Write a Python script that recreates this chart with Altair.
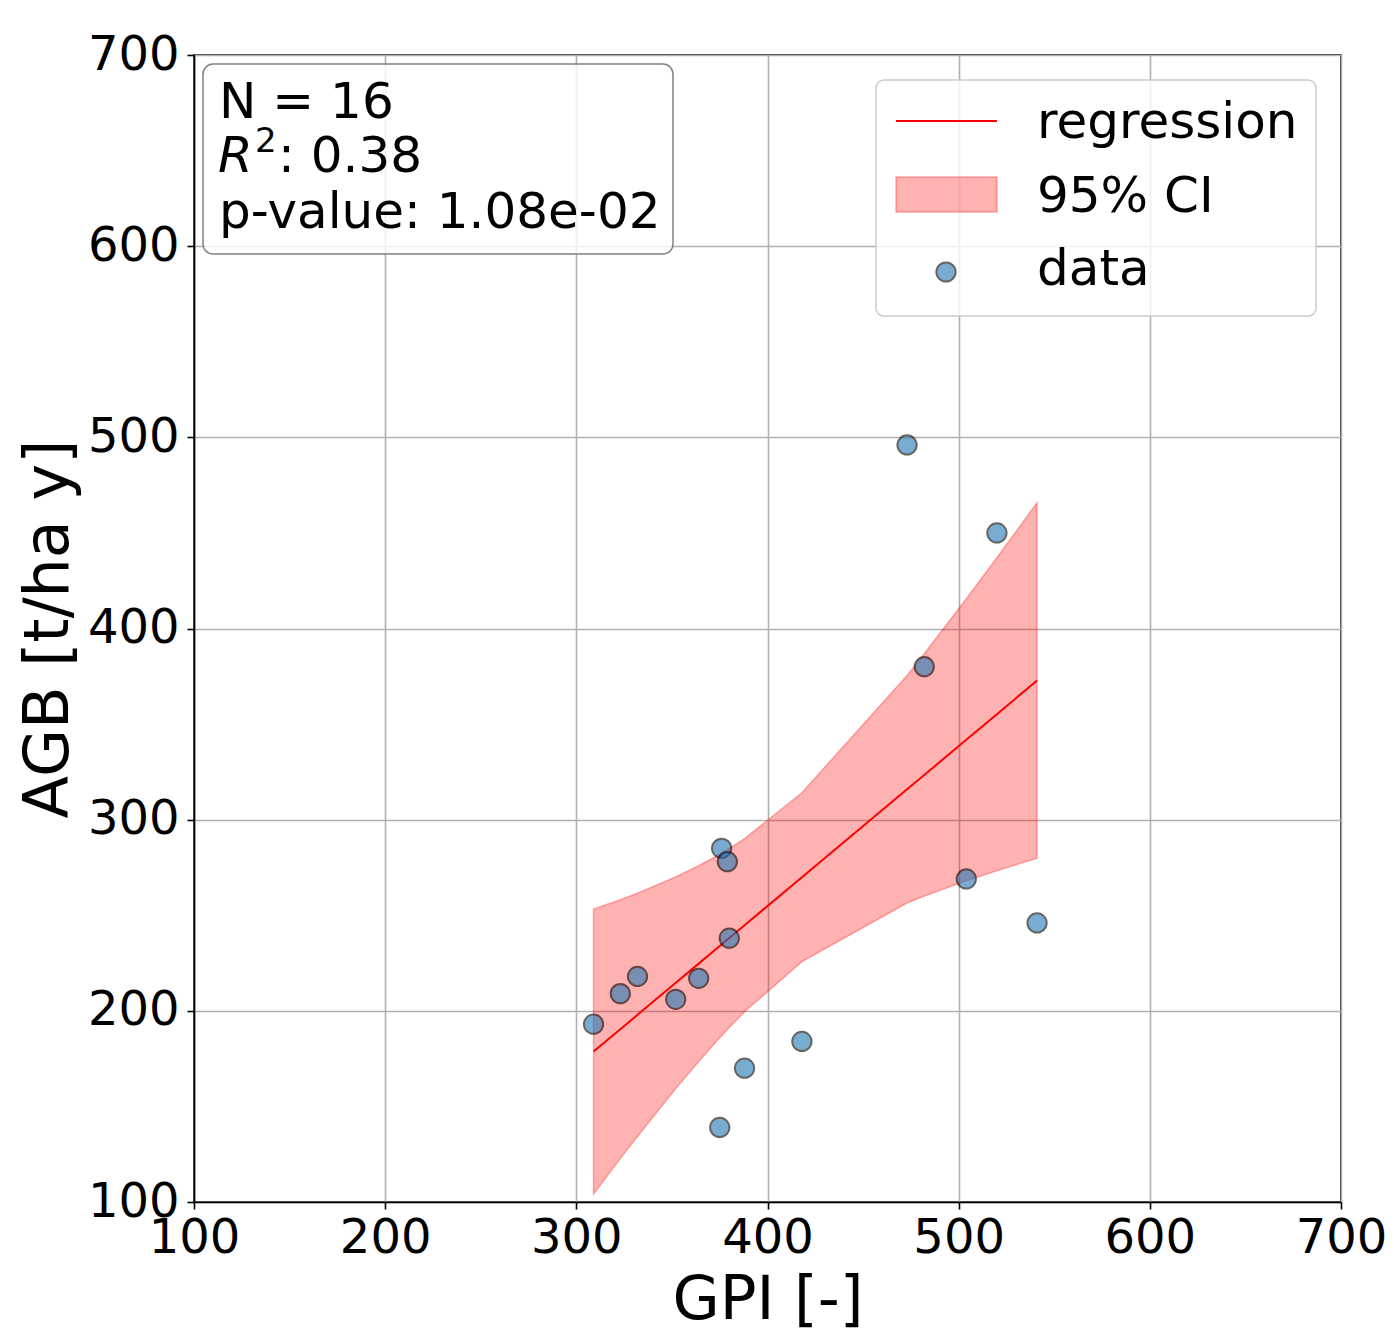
import altair as alt
import pandas as pd

# ---- data ----
gpi = [309, 323, 332, 352, 364, 376, 379, 380, 375, 388, 418, 473, 482, 504, 520, 541]
agb = [193, 209, 218, 206, 217, 285, 278, 238, 139, 170, 184, 496, 380, 269, 450, 246]

fit_x = [309, 323, 332, 352, 364, 375, 376, 379, 380, 388, 418, 473, 482, 504, 520, 541]
fit_y = [178.7, 190.4, 197.9, 214.7, 224.7, 233.9, 234.7, 237.3, 238.1, 244.8, 269.9,
         315.9, 323.4, 341.8, 355.2, 372.8]
ci_lo = [104.2, 122.7, 134.3, 159.3, 173.5, 185.9, 186.9, 190.2, 191.3, 199.5, 225.7,
         256.4, 260.0, 268.0, 273.3, 279.8]
ci_hi = [253.2, 258.1, 261.5, 270.1, 275.9, 281.9, 282.5, 284.4, 284.9, 290.1, 314.1,
         375.4, 386.8, 415.6, 437.1, 465.8]

ticks = [100, 200, 300, 400, 500, 600, 700]
stats_lines = ["N = 16", "R", "2", ": 0.38", "p-value: 1.08e-02"]
legend_labels = ["regression", "95% CI", "data"]

FONT = "DejaVu Sans"
W = 1147
H = 1147

pts_df = pd.DataFrame({"x": gpi, "y": agb})
fit_df = pd.DataFrame({"x": fit_x, "y": fit_y, "lo": ci_lo, "hi": ci_hi})
one = pd.DataFrame({"a": [0]})

xscale = alt.Scale(domain=[100, 700], nice=False, zero=False)
yscale = alt.Scale(domain=[100, 700], nice=False, zero=False)

x_axis = alt.Axis(values=ticks, title="GPI [-]", format="d", labelFontSize=48, titleFontSize=61,
                  titleFontWeight="normal", tickSize=7, labelPadding=5, labelFlush=False,
                  labelOverlap=False, titleBaseline="alphabetic", titleY=116)
y_axis = alt.Axis(values=ticks, title="AGB [t/ha y]", format="d", labelFontSize=48, titleFontSize=62,
                  titleFontWeight="normal", tickSize=7, labelPadding=8, labelFlush=False,
                  labelOverlap=False, titleAngle=270, titleBaseline="alphabetic", titleX=-127)

X = alt.X("x:Q", scale=xscale, axis=x_axis)
Y = alt.Y("y:Q", scale=yscale, axis=y_axis)

band = alt.Chart(fit_df).mark_area(
    fill="#ff0000", fillOpacity=0.3, stroke="#ff0000", strokeOpacity=0.3, strokeWidth=1.5
).encode(x=X, y=alt.Y("lo:Q", scale=yscale, axis=y_axis), y2="hi:Q")

line = alt.Chart(fit_df).mark_line(color="#ff0000", strokeWidth=2).encode(x=X, y=Y)

pts = alt.Chart(pts_df).mark_point(
    filled=True, shape="circle", size=370, fill="#1f77b4", stroke="black",
    strokeWidth=2, opacity=0.6
).encode(x=X, y=Y)

# ---- stats box ----
tbox = alt.Chart(one).mark_rect(
    fill="white", fillOpacity=0.8, stroke="#808080", strokeWidth=1.5, cornerRadius=10
).encode(x=alt.value(9), x2=alt.value(479), y=alt.value(9), y2=alt.value(199))

def txt(s, x, y, size=50, style="normal"):
    return alt.Chart(one).mark_text(
        text=s, font=FONT, fontSize=size, fontStyle=style, align="left",
        baseline="alphabetic", color="black"
    ).encode(x=alt.value(x), y=alt.value(y))

t1 = txt(stats_lines[0], 25, 63)
tR = txt(stats_lines[1], 24, 117, style="italic")
t2 = txt(stats_lines[2], 61, 97, size=34)
tr = txt(stats_lines[3], 84, 117)
t3 = txt(stats_lines[4], 25, 173)

# ---- legend ----
lbox = alt.Chart(one).mark_rect(
    fill="white", fillOpacity=0.8, stroke="#cccccc", strokeWidth=1.5, cornerRadius=8
).encode(x=alt.value(682), x2=alt.value(1122), y=alt.value(25), y2=alt.value(261))
lline = alt.Chart(one).mark_rule(color="#ff0000", strokeWidth=2).encode(
    x=alt.value(702), x2=alt.value(803), y=alt.value(66))
lpatch = alt.Chart(one).mark_rect(
    fill="#ff0000", fillOpacity=0.3, stroke="#ff0000", strokeOpacity=0.3, strokeWidth=1.5
).encode(x=alt.value(702), x2=alt.value(803), y=alt.value(122), y2=alt.value(157))
lpt = alt.Chart(one).mark_point(
    filled=True, shape="circle", size=370, fill="#1f77b4", stroke="black",
    strokeWidth=2, opacity=0.6
).encode(x=alt.value(752), y=alt.value(217))
l1 = txt(legend_labels[0], 843, 83)
l2 = txt(legend_labels[1], 843, 157)
l3 = txt(legend_labels[2], 843, 230)

chart = alt.layer(
    band, line, pts, tbox, t1, tR, t2, tr, t3, lbox, lline, lpatch, lpt, l1, l2, l3
).properties(
    width=W, height=H,
    padding={"left": 194, "top": 55, "right": 53, "bottom": 129},
    autosize=alt.AutoSizeParams(type="none"),
).configure(
    font=FONT, background="white"
).configure_view(
    stroke="black", strokeWidth=1.6
).configure_axis(
    labelFont=FONT, titleFont=FONT, labelColor="black", titleColor="black",
    domainColor="black", domainWidth=1.6, tickColor="black", tickWidth=1.6,
    gridColor="#b0b0b0", gridWidth=1.6
)

chart.save("out.html", embed_options={"renderer": "svg", "actions": False})
